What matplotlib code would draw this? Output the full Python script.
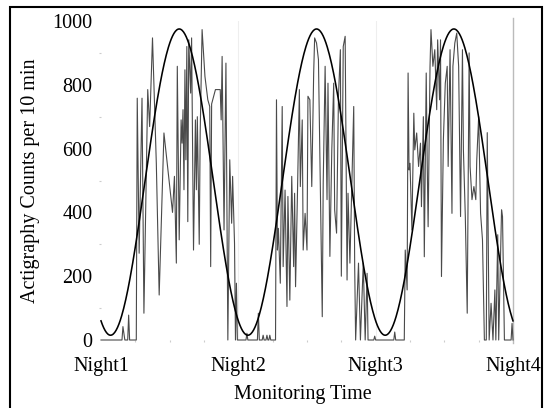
import numpy as np
import matplotlib
matplotlib.use('Agg')
import matplotlib.pyplot as plt
from matplotlib.patches import Rectangle

plt.rcParams['font.family'] = ['Liberation Serif', 'DejaVu Serif']

# 10-minute epochs counted from Night1 (144 epochs per day)
night1_epochs = [0, 22, 23, 25, 28, 29, 30, 37, 38, 40, 43, 45, 49, 51, 54, 58, 61, 66, 75, 77,
                 79, 80, 82, 84, 85, 86, 87, 88, 89, 90, 91, 92, 94, 95, 97, 99, 100, 101, 103, 104,
                 106, 109, 112, 114, 115, 116, 120, 125, 126, 127, 129, 131, 133, 135, 137, 138, 140,
                 141, 142, 143]
night1_counts = [0, 0, 42, 0, 0, 78, 0, 0, 758, 272, 758, 84, 785, 669, 947, 554, 141, 649, 400, 513,
                 241, 858, 314, 690, 617, 722, 471, 847, 565, 920, 371, 941, 774, 947, 282, 690, 471, 700, 300, 650,
                 973, 826, 753, 732, 230, 740, 785, 785, 690, 889, 345, 868, 0, 565, 366, 513, 303,
                 0, 178, 0]

night2_epochs = [144, 152, 153, 154, 164, 165, 166, 169, 170, 171, 173, 174, 175, 176, 177, 178, 183,
                 184, 185, 186, 188, 190, 191, 193, 195, 196, 198, 200, 202, 203, 204, 206, 208, 209,
                 211, 212, 214, 216, 217, 219, 221, 223, 224, 226, 228, 230, 232, 233, 235, 237, 238,
                 240, 242, 244, 245, 247, 249, 251, 252, 254, 256, 258, 259, 261, 263, 265, 266, 267,
                 270, 272, 275, 277, 279, 280, 286, 287, 288]
night2_counts = [0, 0, 21, 0, 0, 84, 0, 0, 15, 0, 0, 15, 0, 0, 15, 0, 0,
                 753, 282, 350, 178, 732, 230, 470, 105, 450, 125, 513, 230, 460, 167, 460, 785, 481,
                 690, 282, 397, 282, 764, 753, 481, 837, 947, 931, 879, 481, 73, 492, 858, 440, 805,
                 262, 596, 805, 408, 335, 764, 910, 200, 920, 952, 188, 460, 241, 492, 732, 230, 0,
                 241, 0, 241, 0, 209, 0, 0, 12, 0]

night3_epochs = [289, 307, 308, 309, 318, 319, 321, 322, 323, 324, 326, 328, 329, 331, 333, 335, 336,
                 338, 339, 341, 342, 343, 345, 346, 348, 350, 352, 353, 355, 356, 357, 359, 361, 363,
                 364, 366, 368, 369, 371, 373, 375, 377, 379, 380, 382, 384, 386, 387, 389, 391, 393,
                 394, 396, 398, 400, 402, 404, 405, 407, 409, 411, 413, 414, 416, 417, 419, 420, 421,
                 423, 430, 431, 432]
night3_counts = [0, 0, 25, 0, 0, 282, 157, 837, 533, 554, 345, 711, 596, 649, 544, 617, 418,
                 700, 261, 837, 565, 355, 858, 973, 858, 910, 722, 941, 753, 941, 199, 628, 805, 858,
                 544, 910, 397, 858, 931, 962, 858, 387, 910, 596, 387, 84, 900, 544, 440, 481, 440,
                 565, 700, 397, 314, 0, 0, 650, 0, 115, 0, 157, 0, 330, 0, 282, 408, 387,
                 0, 0, 52, 0]

# cosinor fit (counts, counts, epoch of peak, epochs per cycle)
fit_mesor = 495
fit_amplitude = 480
fit_acrophase = 82
fit_period = 144

night_ticks = [0, 144, 288, 432]
night_labels = ['Night1', 'Night2', 'Night3', 'Night4']
y_ticks = [0, 200, 400, 600, 800, 1000]

epochs = np.array(night1_epochs + night2_epochs + night3_epochs)
counts = np.array(night1_counts + night2_counts + night3_counts)

fig = plt.figure(figsize=(5.48, 4.08), dpi=100)
ax = fig.add_axes([101 / 548, 68 / 408, 412 / 548, 319 / 408])

for t in night_ticks[1:3]:
    ax.axvline(t, color='#eeeeee', lw=0.8, zorder=0)
ax.plot([432, 432], [-10, 1010], color='#bbbbbb', lw=1.0, zorder=0, clip_on=False)

ax.plot(epochs, counts, color='#4a4a4a', lw=0.8, clip_on=False)

t_fit = np.linspace(0, 432, 600)
fit = fit_mesor + fit_amplitude * np.cos(2 * np.pi * (t_fit - fit_acrophase) / fit_period)
ax.plot(t_fit, fit, color='black', lw=1.15, clip_on=False)

ax.set_xlim(0, 432)
ax.set_ylim(0, 1000)
for s in ax.spines.values():
    s.set_visible(False)

ax.set_xticks(night_ticks)
ax.set_xticklabels(night_labels)
ax.set_yticks(y_ticks)
ax.set_yticklabels([str(v) for v in y_ticks])
ax.tick_params(axis='both', length=0, labelsize=14.5)
ax.tick_params(axis='x', pad=12)
ax.tick_params(axis='y', pad=6)

ax.set_xticks([36, 72, 108, 180, 216, 252, 324, 360, 396], minor=True)
ax.set_yticks(np.arange(100, 1000, 100), minor=True)
ax.tick_params(which='minor', length=1.5, color='#cccccc', width=0.8)

ax.set_ylabel('Actigraphy Counts per 10 min', fontsize=14.5)
ax.yaxis.set_label_coords(-0.148, 0.5)
ax.set_xlabel('Monitoring Time', fontsize=14.5)
ax.xaxis.set_label_coords(0.49, -0.142)

fig.patches.append(Rectangle((10 / 548, -5 / 408), 532 / 548, 406 / 408, transform=fig.transFigure,
                             fill=False, ec='black', lw=1.5))

fig.savefig('out.png', dpi=100)
